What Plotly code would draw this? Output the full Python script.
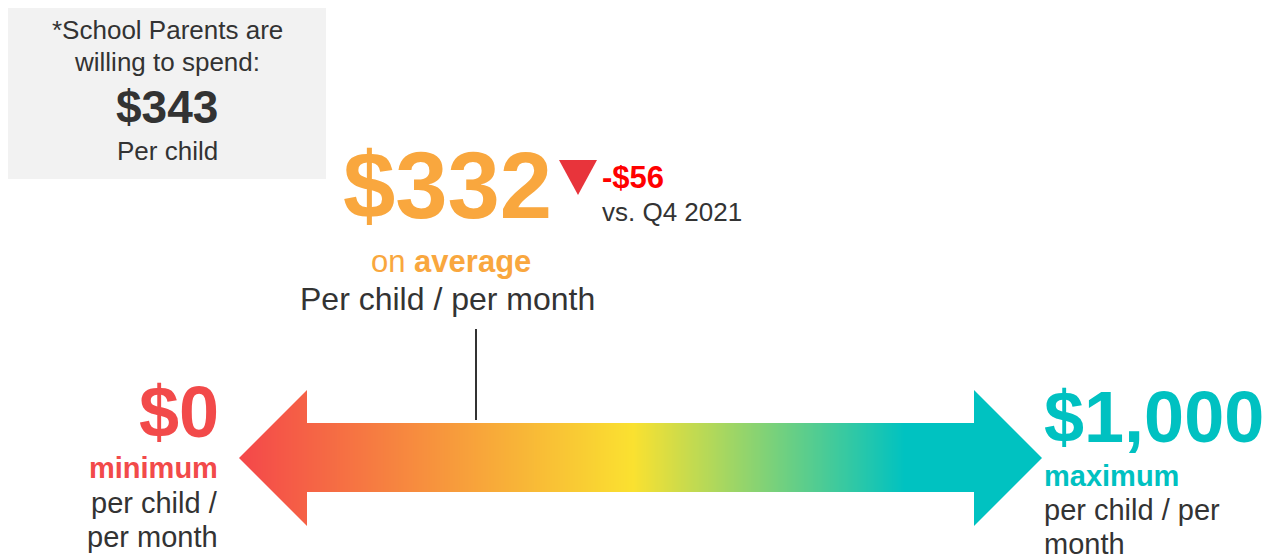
import numpy as np
import plotly.graph_objects as go

# ---- data ----
MIN_VALUE = 0
MAX_VALUE = 1000
AVG_VALUE = 332
CHANGE_VS_PREV = -56
PREV_PERIOD = "Q4 2021"
BOX_VALUE = 343
BOX_LINES = ["*School Parents are", "willing to spend:"]
BOX_UNIT = "Per child"
UNIT_TEXT = "Per child / per month"

# ---- style ----
FONT = "Liberation Sans, Arial, sans-serif"
DARK = "#333333"
ORANGE = "#F9A73E"
RED = "#F24A4A"
BRIGHT_RED = "#FF0000"
TRI_RED = "#E8343B"
TEAL = "#00C1C1"
OFF = 8                      # page body margin
W, H = 1273 - OFF, 559 - OFF

# gradient stops (pixel position, colour)
GRAD_STOPS = [(239, "#F4474A"), (633, "#FAE130"), (905, "#00C2C1"), (1042, "#00C2C1")]

fig = go.Figure()

# gradient body of the arrow (heatmap), masked to arrow shape with white polygons
xs = np.arange(236, 1047)
centers = (xs[:-1] + xs[1:]) / 2
p0, p1 = GRAD_STOPS[0][0], GRAD_STOPS[-1][0]
cscale = [[(p - p0) / (p1 - p0), c] for p, c in GRAD_STOPS]
fig.add_trace(go.Heatmap(
    x=xs, y=[389, 527], z=[centers], zmin=p0, zmax=p1,
    colorscale=cscale, showscale=False, hoverinfo="skip",
    xaxis="x", yaxis="y"))

# invisible trace on the value axis so it is created
fig.add_trace(go.Scatter(x=[MIN_VALUE, MAX_VALUE], y=[-10, -10], mode="markers",
                         marker=dict(opacity=0), xaxis="x2", yaxis="y",
                         hoverinfo="skip", showlegend=False))

shapes = []
# grey box
shapes.append(dict(type="rect", xref="x", yref="y", x0=8, x1=326, y0=4, y1=179,
                   fillcolor="#F2F2F2", line=dict(width=0), layer="below"))
# masks
top = "M 230,388 L 1050,388 L 1050,458 L 1042,458 L 974,390 L 974,423 L 307,423 L 307,390 L 239,458 L 230,458 Z"
bot = "M 230,528 L 1050,528 L 1050,458 L 1042,458 L 974,526 L 974,492 L 307,492 L 307,526 L 239,458 L 230,458 Z"
for p in (top, bot):
    shapes.append(dict(type="path", xref="x", yref="y", path=p,
                       fillcolor="white", line=dict(width=0)))
# marker line at average value
shapes.append(dict(type="line", xref="x2", yref="y", x0=AVG_VALUE, x1=AVG_VALUE,
                   y0=329, y1=420, line=dict(color=DARK, width=2)))
# red down triangle
shapes.append(dict(type="path", xref="x", yref="y",
                   path="M 559,160 L 597,160 L 578,195 Z",
                   fillcolor=TRI_RED, line=dict(width=0)))

def fmt_money(v):
    return f"${v:,.0f}" if v >= 0 else f"-${abs(v):,.0f}"

ann = []
def add(text, x, baseline, size, color=DARK, bold=False, anchor="center"):
    t = f"<b>{text}</b>" if bold else text
    ann.append(dict(text=t, x=x, y=baseline - 0.35 * size, xref="x", yref="y",
                    xanchor=anchor, yanchor="middle", showarrow=False,
                    font=dict(family=FONT, size=size, color=color)))

add(BOX_LINES[0], 167, 39, 26)
add(BOX_LINES[1], 167, 71, 26)
add(fmt_money(BOX_VALUE), 167, 123, 46, bold=True)
add(BOX_UNIT, 167, 160, 26)

add(fmt_money(AVG_VALUE), 447, 218, 94, color=ORANGE, bold=True)
add(fmt_money(CHANGE_VS_PREV), 600, 188, 31, color=BRIGHT_RED, bold=True, anchor="left")
add(f"vs. {PREV_PERIOD}", 600, 221, 26, anchor="left")
add("on <b>average</b>", 451, 272, 31, color=ORANGE)
add(UNIT_TEXT, 447, 310, 32)

add(fmt_money(MIN_VALUE), 221, 437, 72, color=RED, bold=True, anchor="right")
add("minimum", 220, 478, 29, color=RED, bold=True, anchor="right")
add("per child /", 220, 513, 29, anchor="right")
add("per month", 220, 547, 29, anchor="right")

add(fmt_money(MAX_VALUE), 1042, 442, 72, color=TEAL, bold=True, anchor="left")
add("maximum", 1042, 486, 29, color=TEAL, bold=True, anchor="left")
add("per child / per", 1042, 520, 29, anchor="left")
add("month", 1042, 554, 29, anchor="left")

fig.update_layout(
    width=W, height=H, margin=dict(l=0, r=0, t=0, b=0),
    paper_bgcolor="white", plot_bgcolor="white",
    showlegend=False, shapes=shapes, annotations=ann,
    xaxis=dict(range=[OFF, 1273], visible=False, fixedrange=True),
    xaxis2=dict(range=[-323.6, 1448.4], visible=False, overlaying="x", fixedrange=True),
    yaxis=dict(range=[559, OFF], visible=False, fixedrange=True),
)

fig.write_html("out.html")
